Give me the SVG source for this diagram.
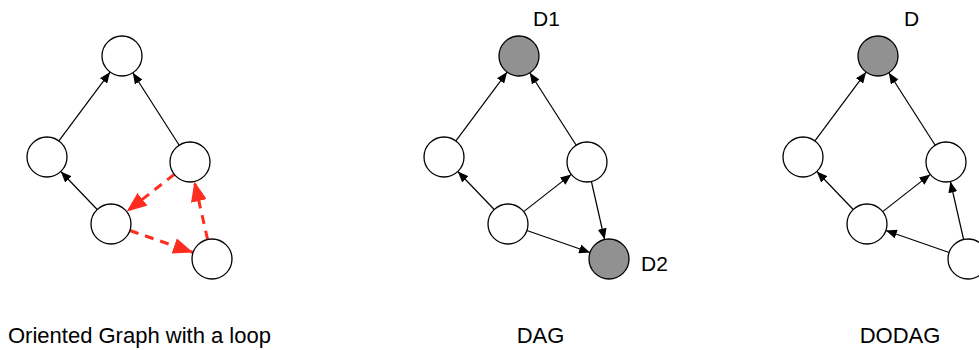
<svg xmlns="http://www.w3.org/2000/svg" width="979" height="350" viewBox="0 0 979 350">
<style>
.n{fill:#fff;stroke:#000;stroke-width:1.3}
.s{fill:#919191;stroke:#000;stroke-width:1.3}
.e{fill:none;stroke:#000;stroke-width:1.2;marker-end:url(#ab)}
.r{fill:none;stroke:#ff2d1f;stroke-width:3;stroke-dasharray:9 7;marker-end:url(#ar)}
text{font-family:"Liberation Sans",Arial,Helvetica,sans-serif;fill:#000}
.c{font-size:22px}
.l{font-size:21px}
</style>
<defs>
<marker id="ab" markerUnits="userSpaceOnUse" markerWidth="11" markerHeight="9" refX="11" refY="4.5" orient="auto"><path d="M0,0 L11,4.5 L0,9 z" fill="#000"/></marker>
<marker id="ar" markerUnits="userSpaceOnUse" markerWidth="20" markerHeight="16" refX="20" refY="8" orient="auto"><path d="M0,0 L20,8 L0,16 z" fill="#ff2d1f"/></marker>
</defs>
<rect width="979" height="350" fill="#fff"/>

<g id="connectors">
<g transform="translate(122,56)">
<line class="e" x1="-63.1" y1="84.9" x2="-11.9" y2="16.1"/>
<line class="e" x1="57.2" y1="89.2" x2="10.8" y2="16.8"/>
<line class="e" x1="-24.8" y1="153.5" x2="-61.2" y2="115.5"/>
<line class="r" x1="52.3" y1="118.4" x2="4.7" y2="155.6"/>
<line class="r" x1="7.9" y1="174.5" x2="71.1" y2="196.5"/>
<line class="r" x1="85.6" y1="183.5" x2="72.4" y2="125.5"/>
</g>
<g transform="translate(519,56)">
<line class="e" x1="-63.1" y1="84.9" x2="-11.9" y2="16.1"/>
<line class="e" x1="57.2" y1="89.2" x2="10.8" y2="16.8"/>
<line class="e" x1="-24.8" y1="153.5" x2="-61.2" y2="115.5"/>
<line class="e" x1="4.7" y1="155.6" x2="52.3" y2="118.4"/>
<line class="e" x1="72.4" y1="125.5" x2="85.6" y2="183.5"/>
<line class="e" x1="7.9" y1="174.5" x2="71.1" y2="196.5"/>
</g>
<g transform="translate(878,56)">
<line class="e" x1="-63.1" y1="84.9" x2="-11.9" y2="16.1"/>
<line class="e" x1="57.2" y1="89.2" x2="10.8" y2="16.8"/>
<line class="e" x1="-24.8" y1="153.5" x2="-61.2" y2="115.5"/>
<line class="e" x1="4.7" y1="155.6" x2="52.3" y2="118.4"/>
<line class="e" x1="71.1" y1="196.5" x2="7.9" y2="174.5"/>
<line class="e" x1="85.6" y1="183.5" x2="72.4" y2="125.5"/>
</g>
</g>

<g transform="translate(122,56)">
<g id="g1-top"><circle class="n" cx="0" cy="0" r="20"/></g>
<g id="g1-left"><circle class="n" cx="-75" cy="101" r="20"/></g>
<g id="g1-right"><circle class="n" cx="68" cy="106" r="20"/></g>
<g id="g1-bottom"><circle class="n" cx="-11" cy="168" r="20"/></g>
<g id="g1-bottomright"><circle class="n" cx="90" cy="203" r="20"/></g>
</g>
<g transform="translate(519,56)">
<g id="dag-d1"><circle class="s" cx="0" cy="0" r="20"/></g>
<g id="dag-left"><circle class="n" cx="-75" cy="101" r="20"/></g>
<g id="dag-right"><circle class="n" cx="68" cy="106" r="20"/></g>
<g id="dag-bottom"><circle class="n" cx="-11" cy="168" r="20"/></g>
<g id="dag-d2"><circle class="s" cx="90" cy="203" r="20"/></g>
</g>
<g transform="translate(878,56)">
<g id="dodag-d"><circle class="s" cx="0" cy="0" r="20"/></g>
<g id="dodag-left"><circle class="n" cx="-75" cy="101" r="20"/></g>
<g id="dodag-right"><circle class="n" cx="68" cy="106" r="20"/></g>
<g id="dodag-bottom"><circle class="n" cx="-11" cy="168" r="20"/></g>
<g id="dodag-bottomright"><circle class="n" cx="90" cy="203" r="20"/></g>
</g>

<g id="labels">
<text class="l" x="533" y="26">D1</text>
<text class="l" x="641" y="271">D2</text>
<text class="l" x="904" y="26">D</text>
<text class="c" x="8" y="343">Oriented Graph with a loop</text>
<text class="c" x="540.5" y="343" text-anchor="middle">DAG</text>
<text class="c" x="900" y="343" text-anchor="middle">DODAG</text>
</g>
</svg>
